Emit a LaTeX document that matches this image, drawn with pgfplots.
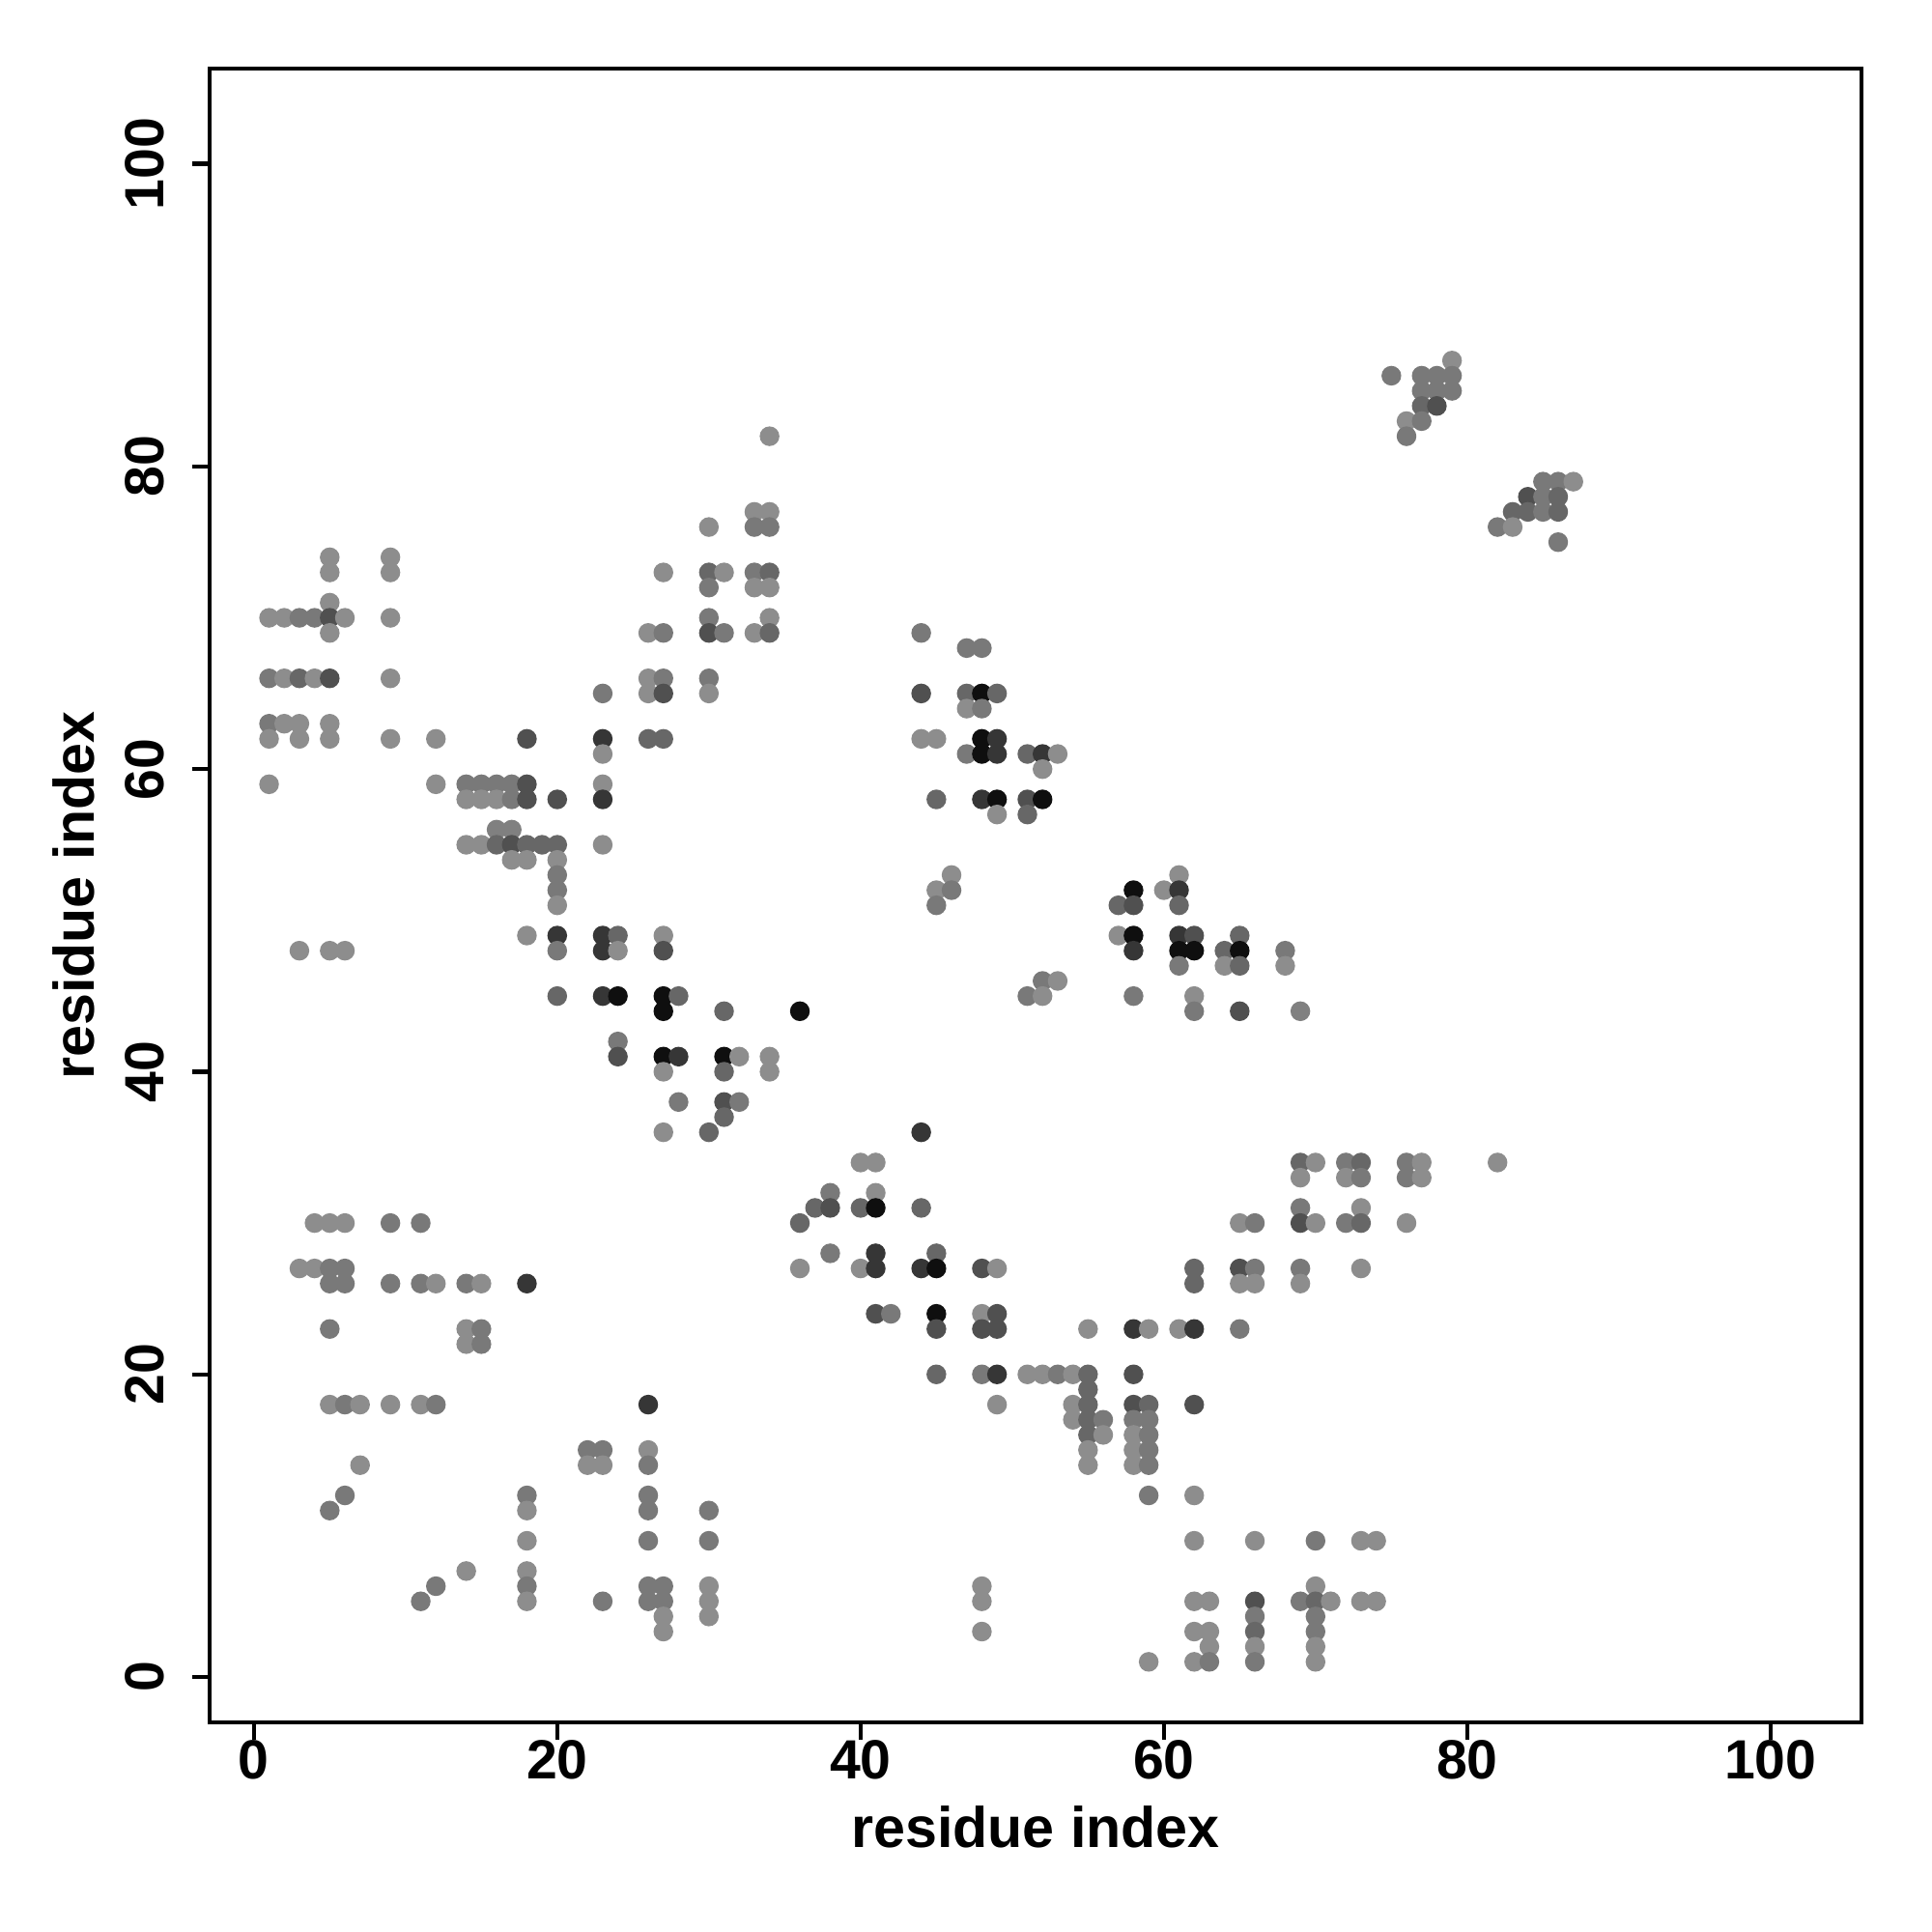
\documentclass[border=0pt]{standalone}
\usepackage{pgfplots}
\pgfplotsset{compat=1.18}
\usepackage{pgfplotstable}
\usepackage{fontspec}
\setmainfont{Liberation Sans}
\pgfplotstableread{
x y g
5 74 .55
5 73 .55
9 74 .55
9 73 .55
5 71 .55
1 70 .55
2 70 .55
3 70 .47
4 70 .47
5 70 .31
6 70 .55
9 70 .55
5 69 .55
27 73 .55
26 69 .55
27 69 .47
1 66 .47
2 66 .55
3 66 .40
4 66 .55
5 66 .31
9 66 .55
26 66 .55
27 66 .47
23 65 .47
26 65 .55
27 65 .31
1 63 .47
2 63 .55
3 63 .55
5 63 .55
1 62 .55
3 62 .55
5 62 .55
9 62 .55
12 62 .55
18 62 .31
23 62 .21
26 62 .40
27 62 .40
23 61 .55
1 59 .55
12 59 .55
14 59 .47
15 59 .47
16 59 .47
17 59 .47
18 59 .31
23 59 .55
14 58 .55
15 58 .55
16 58 .55
17 58 .47
18 58 .31
20 58 .31
23 58 .21
16 56 .50
17 56 .50
14 55 .55
15 55 .55
16 55 .40
17 55 .31
18 55 .40
19 55 .40
20 55 .40
23 55 .55
17 54 .55
18 54 .55
20 54 .55
20 53 .47
20 52 .47
20 51 .55
18 49 .55
20 49 .21
23 49 .21
24 49 .40
27 49 .55
3 48 .55
5 48 .55
6 48 .55
20 48 .47
23 48 .21
24 48 .55
27 48 .31
20 45 .40
23 45 .21
24 45 .06
27 45 .06
28 45 .40
27 44 .06
34 82 .55
33 77 .55
34 77 .55
30 76 .55
33 76 .47
34 76 .47
30 73 .40
31 73 .55
33 73 .47
34 73 .40
30 72 .47
33 72 .55
34 72 .55
30 70 .47
34 70 .55
30 69 .31
31 69 .47
33 69 .55
34 69 .40
30 66 .47
30 65 .55
44 69 .47
47 68 .47
48 68 .47
79 87 .55
75 86 .47
77 86 .47
78 86 .47
79 86 .47
77 85 .47
78 85 .47
79 85 .47
77 84 .40
78 84 .31
76 83 .55
77 83 .47
76 82 .47
85 79 .47
86 79 .47
87 79 .55
84 78 .31
85 78 .47
86 78 .40
83 77 .40
84 77 .40
85 77 .47
86 77 .40
82 76 .47
83 76 .55
86 75 .47
44 65 .31
47 65 .40
48 65 .06
49 65 .40
47 64 .55
48 64 .47
44 62 .55
45 62 .55
48 62 .06
49 62 .21
47 61 .47
48 61 .06
49 61 .21
51 61 .40
52 61 .21
53 61 .55
52 60 .55
45 58 .40
48 58 .21
49 58 .06
51 58 .31
52 58 .06
49 57 .55
51 57 .40
46 53 .55
45 52 .55
46 52 .47
45 51 .47
57 51 .40
57 49 .55
52 46 .47
53 46 .55
51 45 .47
52 45 .55
31 44 .40
36 44 .06
61 53 .55
58 52 .06
60 52 .55
61 52 .21
58 51 .31
61 51 .40
58 49 .06
61 49 .21
62 49 .31
65 49 .40
58 48 .21
61 48 .06
62 48 .06
64 48 .40
65 48 .06
68 48 .47
61 47 .47
64 47 .55
65 47 .40
68 47 .55
58 45 .47
62 45 .55
62 44 .47
65 44 .31
69 44 .50
24 42 .47
24 41 .31
27 41 .06
28 41 .21
27 40 .55
28 38 .47
27 36 .55
4 30 .55
5 30 .55
6 30 .55
9 30 .47
11 30 .47
3 27 .55
4 27 .55
5 27 .47
6 27 .47
5 26 .47
6 26 .47
9 26 .47
11 26 .47
12 26 .55
14 26 .47
15 26 .55
18 26 .21
5 23 .47
14 23 .55
15 23 .47
14 22 .55
15 22 .47
31 41 .06
32 41 .55
34 41 .55
34 40 .55
31 40 .40
31 38 .31
32 38 .47
31 37 .40
30 36 .40
44 36 .21
40 34 .55
41 34 .55
38 32 .47
41 32 .55
37 31 .40
38 31 .31
40 31 .40
41 31 .06
44 31 .40
36 30 .40
38 28 .47
41 28 .21
45 28 .40
36 27 .55
40 27 .55
41 27 .21
44 27 .21
45 27 .06
48 27 .31
49 27 .55
41 24 .31
42 24 .47
45 24 .06
48 24 .55
49 24 .31
45 23 .31
48 23 .31
49 23 .31
55 23 .55
69 34 .40
70 34 .55
72 34 .47
73 34 .40
76 34 .47
77 34 .55
82 34 .55
69 33 .55
72 33 .55
73 33 .47
76 33 .47
77 33 .55
69 31 .47
73 31 .55
65 30 .55
66 30 .47
69 30 .31
70 30 .55
72 30 .47
73 30 .40
76 30 .55
62 27 .40
62 26 .40
65 27 .31
66 27 .47
65 26 .55
66 26 .55
69 27 .47
69 26 .55
73 27 .55
58 23 .21
59 23 .55
61 23 .55
62 23 .21
65 23 .47
5 18 .55
6 18 .47
7 18 .55
9 18 .55
11 18 .55
12 18 .47
26 18 .21
22 15 .47
23 15 .47
22 14 .55
23 14 .55
26 15 .55
26 14 .47
7 14 .55
6 12 .47
5 11 .47
18 12 .47
18 11 .55
26 12 .47
26 11 .47
18 9 .55
26 9 .47
14 7 .55
12 6 .47
11 5 .47
18 7 .55
18 6 .47
18 5 .55
23 5 .47
26 6 .47
27 6 .47
26 5 .47
27 5 .47
27 4 .55
27 3 .55
45 20 .40
48 20 .47
49 20 .21
51 20 .55
52 20 .55
53 20 .47
54 20 .55
55 20 .40
55 19 .40
49 18 .55
54 18 .55
55 18 .40
54 17 .55
55 17 .40
56 17 .47
55 16 .40
56 16 .55
55 15 .55
55 14 .55
30 11 .47
30 9 .47
30 6 .55
30 5 .55
30 4 .55
48 6 .55
48 5 .55
48 3 .55
58 20 .31
58 18 .31
59 18 .40
62 18 .31
58 17 .47
59 17 .47
58 16 .55
59 16 .47
58 15 .55
59 15 .47
58 14 .55
59 14 .47
59 12 .47
62 12 .55
62 9 .55
66 9 .55
70 9 .47
73 9 .55
74 9 .55
70 6 .55
62 5 .55
63 5 .55
66 5 .31
69 5 .47
70 5 .40
71 5 .55
73 5 .55
74 5 .55
66 4 .47
70 4 .47
62 3 .55
63 3 .55
66 3 .40
70 3 .47
63 2 .55
66 2 .55
70 2 .55
59 1 .55
62 1 .55
63 1 .47
66 1 .47
70 1 .55
}\contacts
\begin{document}
\begin{tikzpicture}
\begin{axis}[
  name=ax,
  scale only axis,
  width=427.5pt, height=428pt,
  xmin=-2.92, xmax=106.0, ymin=-3.0, ymax=106.3,
  xtick={0,20,...,100}, ytick={0,20,...,100},
  xtick pos=bottom, ytick pos=left,
  tick align=outside,
  major tick length=4.5pt,
  axis line style={line width=1.1pt},
  every tick/.style={line width=1.1pt, black},
  /pgf/number format/assume math mode=true,
  ticklabel style={font=\fontsize{14.3}{16}\selectfont\bfseries, inner sep=0pt},
  xticklabel style={anchor=north},
  yticklabel style={rotate=90, anchor=south},
  yticklabel shift=7pt,
  xlabel={residue index}, ylabel={residue index},
  xlabel style={font=\fontsize{14.8}{17}\selectfont\bfseries, inner sep=0pt, at={(axis description cs:0.5,-0.0633)}, anchor=center},
  ylabel style={font=\fontsize{14.8}{17}\selectfont\bfseries, inner sep=0pt, at={(axis description cs:-0.0822,0.5)}, anchor=center},
  colormap={bw}{gray(0cm)=(0); gray(1cm)=(1)},
  point meta min=0, point meta max=1,
]
\addplot[scatter, only marks, mark=*, mark size=2.35pt,
  scatter/use mapped color={draw=mapped color, fill=mapped color},
  point meta=explicit] table[x=x, y=y, meta=g] {\contacts};
\end{axis}
\path ([xshift=-54.25pt,yshift=-54.25pt]ax.south west) rectangle ([xshift=18.25pt,yshift=17.75pt]ax.north east);
\end{tikzpicture}
\end{document}
